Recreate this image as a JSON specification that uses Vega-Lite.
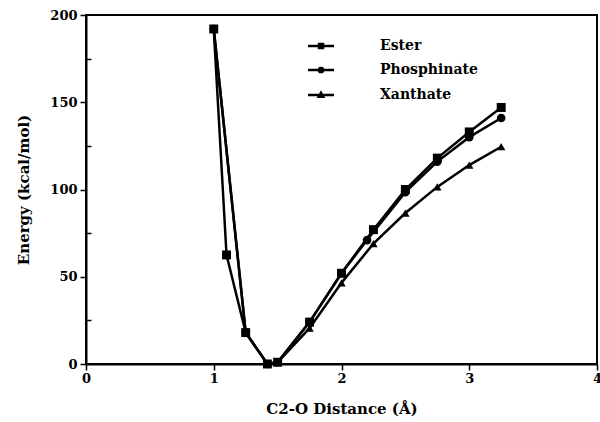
{
  "$schema": "https://vega.github.io/schema/vega-lite/v6.json",
  "width": 511,
  "height": 349,
  "autosize": {"type": "none"},
  "padding": {"left": 86, "top": 15, "right": 3, "bottom": 58},
  "background": "white",
  "config": {
    "view": {"stroke": "black", "strokeWidth": 2},
    "font": "DejaVu Serif",
    "axis": {
      "domainColor": "black",
      "domainWidth": 2,
      "tickColor": "black",
      "tickWidth": 1.5,
      "labelFont": "DejaVu Serif",
      "labelFontWeight": "bold",
      "labelFontSize": 13,
      "labelColor": "black",
      "titleFont": "DejaVu Serif",
      "titleFontWeight": "bold",
      "titleFontSize": 15,
      "titleColor": "black",
      "grid": false
    }
  },
  "data": {
    "values": [
      {"series": "Ester", "x": 1.0, "y": 192},
      {"series": "Ester", "x": 1.1, "y": 62.5},
      {"series": "Ester", "x": 1.25, "y": 18},
      {"series": "Ester", "x": 1.42, "y": 0},
      {"series": "Ester", "x": 1.5, "y": 1},
      {"series": "Ester", "x": 1.75, "y": 24},
      {"series": "Ester", "x": 2.0, "y": 52},
      {"series": "Ester", "x": 2.25, "y": 77},
      {"series": "Ester", "x": 2.5, "y": 100},
      {"series": "Ester", "x": 2.75, "y": 118},
      {"series": "Ester", "x": 3.0, "y": 133},
      {"series": "Ester", "x": 3.25, "y": 147},
      {"series": "Phosphinate", "x": 1.0, "y": 192},
      {"series": "Phosphinate", "x": 1.25, "y": 18},
      {"series": "Phosphinate", "x": 1.42, "y": 0},
      {"series": "Phosphinate", "x": 1.5, "y": 1},
      {"series": "Phosphinate", "x": 1.75, "y": 24},
      {"series": "Phosphinate", "x": 2.0, "y": 52},
      {"series": "Phosphinate", "x": 2.2, "y": 71},
      {"series": "Phosphinate", "x": 2.5, "y": 98.5},
      {"series": "Phosphinate", "x": 2.75, "y": 116},
      {"series": "Phosphinate", "x": 3.0, "y": 130},
      {"series": "Phosphinate", "x": 3.25, "y": 141},
      {"series": "Xanthate", "x": 1.0, "y": 192},
      {"series": "Xanthate", "x": 1.25, "y": 18},
      {"series": "Xanthate", "x": 1.42, "y": 0},
      {"series": "Xanthate", "x": 1.5, "y": 1},
      {"series": "Xanthate", "x": 1.75, "y": 20.5},
      {"series": "Xanthate", "x": 2.0, "y": 46.5},
      {"series": "Xanthate", "x": 2.25, "y": 69},
      {"series": "Xanthate", "x": 2.5, "y": 86.5},
      {"series": "Xanthate", "x": 2.75, "y": 101.5},
      {"series": "Xanthate", "x": 3.0, "y": 114},
      {"series": "Xanthate", "x": 3.25, "y": 124.5}
    ]
  },
  "encoding": {
    "x": {
      "field": "x",
      "type": "quantitative",
      "scale": {"domain": [0, 4], "nice": false},
      "axis": {
        "title": "C2-O  Distance  (Å)",
        "format": "d",
        "values": [0, 0.5, 1, 1.5, 2, 2.5, 3, 3.5, 4],
        "labelExpr": "datum.value % 1 === 0 ? datum.label : ''",
        "tickSize": {"condition": {"test": "datum.value % 1 === 0", "value": 6}, "value": 4},
        "labelPadding": 2,
        "titlePadding": 16,
        "labelFlush": false
      }
    },
    "y": {
      "field": "y",
      "type": "quantitative",
      "scale": {"domain": [0, 200], "nice": false},
      "axis": {
        "title": "Energy  (kcal/mol)",
        "format": "d",
        "values": [0, 25, 50, 75, 100, 125, 150, 175, 200],
        "labelExpr": "datum.value % 50 === 0 ? datum.label : ''",
        "tickSize": {"condition": {"test": "datum.value % 50 === 0", "value": 6}, "value": -5},
        "labelPadding": 3,
        "titlePadding": 18,
        "labelFlush": false
      }
    }
  },
  "layer": [
    {
      "mark": {"type": "line", "color": "black", "strokeWidth": 2.5},
      "encoding": {"detail": {"field": "series"}}
    },
    {
      "mark": {"type": "point", "filled": true, "color": "black", "opacity": 1},
      "encoding": {
        "shape": {
          "field": "series",
          "type": "nominal",
          "scale": {"domain": ["Ester", "Phosphinate", "Xanthate"], "range": ["square", "circle", "triangle-up"]},
          "legend": null
        },
        "size": {
          "field": "series",
          "type": "nominal",
          "scale": {"domain": ["Ester", "Phosphinate", "Xanthate"], "range": [80, 70, 70]},
          "legend": null
        }
      }
    },
    {
      "mark": {"type": "point", "filled": false, "opacity": 0},
      "encoding": {
        "fill": {
          "field": "series",
          "type": "nominal",
          "scale": {"domain": ["Ester", "Phosphinate", "Xanthate"], "range": ["black", "black", "black"]},
          "legend": {
            "title": null,
            "orient": "none",
            "legendX": 228,
            "legendY": 24,
            "symbolType": "M-2.6,0H2.6M-0.4,-0.4H0.4V0.4H-0.4Z",
            "symbolSize": 100,
            "symbolOpacity": 1,
            "symbolStrokeColor": "black",
            "symbolFillColor": "black",
            "symbolStrokeWidth": 2.5,
            "labelFont": "DejaVu Serif",
            "labelFontWeight": "bold",
            "labelFontSize": 14,
            "labelColor": "black",
            "labelOffset": 52,
            "rowPadding": 9,
            "encode": {
              "symbols": {
                "update": {
                  "shape": {"signal": "datum.value === 'Ester' ? 'M-2.6,0H2.6M-0.4,-0.4H0.4V0.4H-0.4Z' : datum.value === 'Phosphinate' ? 'M-2.6,0H2.6M0.42,0A0.42,0.42,0,1,1,-0.42,0A0.42,0.42,0,1,1,0.42,0Z' : 'M-2.6,0H2.6M0,-0.45L0.45,0.35L-0.45,0.35Z'"}
                }
              }
            }
          }
        }
      }
    }
  ],
  "resolve": {"scale": {"fill": "independent", "shape": "independent"}, "legend": {"fill": "independent", "shape": "independent"}}
}
